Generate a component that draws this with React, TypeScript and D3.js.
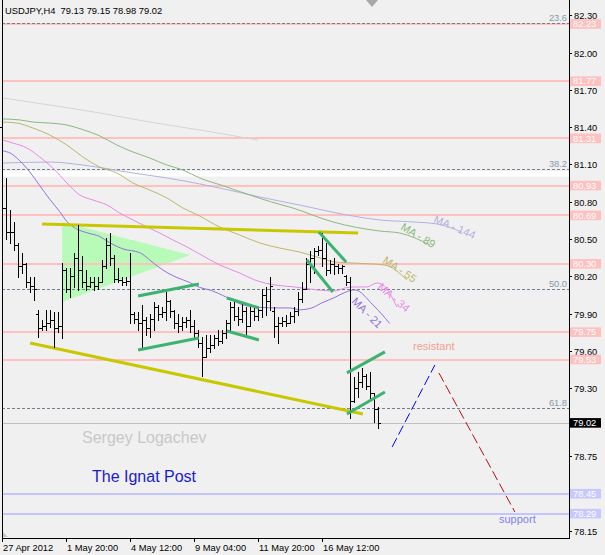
import React from "react";
import * as d3 from "d3";

const W = 605;
const H = 555;

// OHLC bars (H4), index 0..94
const opens = [81.40,80.75,80.56,80.56,80.45,80.28,80.30,80.15,80.12,79.90,79.78,79.80,79.82,79.85,79.78,79.80,80.25,80.10,80.20,80.35,80.25,80.15,80.12,80.15,80.12,80.15,80.28,80.45,80.35,80.18,80.17,80.15,80.16,79.90,79.86,79.82,79.85,79.78,79.86,79.95,79.90,79.91,80.00,79.92,79.82,79.80,79.83,79.85,79.80,79.74,79.66,79.55,79.62,79.65,79.70,79.68,79.74,79.82,79.95,79.88,79.86,79.92,79.80,79.92,79.88,79.93,80.05,80.00,79.92,79.80,79.82,79.84,79.82,79.88,79.92,80.02,80.10,80.30,80.35,80.40,80.41,80.35,80.25,80.30,80.28,80.27,80.20,80.15,79.20,79.30,79.35,79.40,79.32,79.26,79.13];
const highs = [81.43,80.99,80.73,80.64,80.47,80.39,80.31,80.19,80.19,79.93,79.85,79.93,79.93,79.91,79.91,80.31,80.27,80.27,80.39,80.61,80.36,80.25,80.19,80.19,80.19,80.33,80.51,80.55,80.37,80.27,80.19,80.19,80.39,79.91,79.91,79.97,79.87,79.90,79.99,79.97,79.95,80.07,80.01,79.93,79.90,79.87,79.87,79.93,79.85,79.77,79.71,79.73,79.73,79.73,79.77,79.77,79.85,79.99,79.99,79.95,79.99,79.95,79.97,79.95,79.95,80.10,80.11,80.19,79.95,79.87,79.87,79.89,79.91,79.95,80.07,80.15,80.35,80.40,80.43,80.44,80.55,80.47,80.33,80.35,80.30,80.29,80.21,80.19,79.39,79.43,79.46,79.41,79.43,79.26,79.15];
const lows = [80.47,80.50,80.47,80.41,80.19,80.23,80.11,80.07,80.01,79.71,79.77,79.77,79.79,79.63,79.75,79.70,80.07,80.03,80.11,80.09,80.11,80.09,80.11,80.09,80.10,80.15,80.27,80.29,80.15,80.15,80.13,80.13,79.82,79.82,79.77,79.62,79.73,79.71,79.77,79.85,79.87,79.85,79.87,79.78,79.75,79.77,79.79,79.75,79.71,79.63,79.40,79.55,79.59,79.62,79.65,79.66,79.70,79.75,79.85,79.81,79.83,79.71,79.80,79.85,79.85,79.87,79.89,79.93,79.71,79.66,79.80,79.80,79.82,79.83,79.89,79.99,80.10,80.15,80.23,80.37,80.28,80.21,80.23,80.22,80.23,80.23,80.13,79.06,79.19,79.23,79.31,79.29,79.22,79.03,78.98];
const closes = [80.75,80.56,80.56,80.45,80.28,80.30,80.15,80.12,80.10,79.78,79.80,79.82,79.85,79.78,79.80,80.25,80.10,80.20,80.35,80.25,80.15,80.12,80.15,80.12,80.15,80.28,80.45,80.35,80.18,80.17,80.15,80.16,79.90,79.86,79.82,79.85,79.78,79.86,79.95,79.90,79.91,80.00,79.92,79.82,79.80,79.83,79.85,79.80,79.74,79.66,79.55,79.62,79.65,79.70,79.68,79.74,79.82,79.95,79.88,79.86,79.92,79.80,79.92,79.88,79.93,80.05,80.00,80.12,79.80,79.82,79.84,79.82,79.88,79.92,80.02,80.10,80.30,80.35,80.40,80.41,80.35,80.25,80.30,80.28,80.27,80.28,80.15,79.20,79.30,79.35,79.40,79.32,79.26,79.13,79.02];

// Moving averages, [bar index, price]
const ma21 = [[0,81.21],[2,81.19],[4.3,81.13],[6.8,81.04],[9.3,80.93],[11.8,80.82],[14.3,80.72],[16.1,80.64],[18.6,80.58],[21.1,80.55],[24.3,80.52],[26.8,80.47],[30.1,80.42],[34.3,80.39],[37.6,80.31],[40.1,80.25],[43.6,80.19],[46.8,80.15],[49.3,80.11],[51.8,80.09],[56.1,80.03],[60.1,79.97],[64.3,79.95],[68.6,79.945],[71.8,79.945],[74.3,79.93],[77.3,79.945],[79.8,79.985],[83.1,80.03],[85.6,80.07],[88.1,80.09],[92.6,79.97],[96.8,79.82]];
const ma34 = [[0,81.297],[2.6,81.272],[6.1,81.232],[9.3,81.16],[12.6,81.071],[16.1,80.951],[19.3,80.854],[22.6,80.814],[26.1,80.774],[29.3,80.709],[32.6,80.653],[36.1,80.597],[39.3,80.548],[42.6,80.492],[46.1,80.436],[49.3,80.379],[54.3,80.291],[59.3,80.226],[63.1,80.17],[68.1,80.13],[73.1,80.114],[78.6,80.09],[83.1,80.082],[85.6,80.106],[88.1,80.114],[91.1,80.114],[93.6,80.146],[95.1,80.13],[98.6,79.953]];
const ma55 = [[0,81.441],[3.6,81.433],[7.6,81.393],[11.8,81.337],[16.1,81.256],[20.1,81.16],[24.3,81.079],[28.6,81.031],[32.6,80.951],[36.8,80.894],[41.1,80.83],[45.1,80.749],[49.3,80.685],[54.3,80.596],[59.3,80.532],[64.3,80.468],[69.3,80.427],[74.3,80.395],[78.6,80.355],[83.1,80.315],[87.3,80.307],[95.6,80.29],[101.1,80.17]];
const ma89 = [[0,81.466],[4.3,81.458],[7.6,81.441],[11.8,81.433],[16.1,81.417],[20.1,81.38],[24.3,81.33],[28.6,81.256],[32.6,81.2],[36.8,81.152],[41.1,81.095],[45.1,81.055],[49.3,80.991],[55,80.93],[61.8,80.854],[67,80.8],[72.6,80.749],[82.6,80.637],[94.3,80.564],[99.3,80.548],[106.8,80.452]];
const ma144 = [[0,81.111],[11.8,81.119],[20.1,81.095],[32.6,81.031],[41.1,80.991],[49.3,80.943],[54.3,80.91],[64.3,80.838],[74.3,80.773],[86.1,80.693],[94.3,80.653],[102.6,80.637],[108.6,80.621],[114.8,80.556]];
const ma200 = [[0,81.635],[11.8,81.578],[24.3,81.514],[36.8,81.441],[49.3,81.377],[63.8,81.297]];

// Horizontal levels
const resistLevels = [82.23, 81.77, 81.31, 80.93, 80.69, 80.30, 79.75, 79.53];
const supportLevels = [78.45, 78.29];
const fibLevels = [82.236, 81.061, 80.095, 79.138];
const fibLabels = ["23.6", "38.2", "50.0", "61.8"];
const lastPrice = 79.02;

// Axes
const priceTicks = [82.30, 82.00, 81.70, 81.40, 81.10, 80.80, 80.50, 80.20, 79.90, 79.60, 79.30, 78.75, 78.15];
const timeTickIdx = [0, 16, 32, 48, 64, 80];
const timeTickLabels = ["27 Apr 2012", "1 May 20:00", "4 May 12:00", "9 May 04:00", "11 May 20:00", "16 May 12:00"];

// Drawn objects [index, price]
const triangle = [[14.9, 80.637], [14.9, 79.993], [46.9, 80.371]];
const oliveLines = [
  [[9.9, 80.621], [88.9, 80.548]],
  [[6.9, 79.663], [90.1, 79.092]],
];
const greenLines = [
  [[33.9, 80.041], [49.1, 80.138]],
  [[33.9, 79.606], [49.1, 79.703]],
  [[56.1, 80.025], [64.1, 79.945]],
  [[56.1, 79.76], [64.1, 79.687]],
  [[79.1, 80.556], [85.9, 80.315]],
  [[76.1, 80.331], [82.6, 80.073]],
  [[86.1, 79.422], [95.6, 79.591]],
  [[86.1, 79.092], [95.6, 79.269]],
];
const blueProjection = [[97.4, 78.826], [108.1, 79.486]];
const redProjection = [[109.1, 79.422], [128.1, 78.303]];

const FONT = "'Liberation Sans', Arial, sans-serif";

export default function App() {
  const x = d3.scaleLinear().domain([0, 94]).range([2.5, 378.5]);
  const y = d3.scaleLinear().domain([78.15, 82.3]).range([531, 15.3]);
  const L = 2;
  const R = 569;
  const B = 538;

  const maLine = d3
    .line<number[]>()
    .x((d) => x(d[0]))
    .y((d) => y(d[1]))
    .curve(d3.curveMonotoneX);
  const straight = d3
    .line<number[]>()
    .x((d) => x(d[0]))
    .y((d) => y(d[1]));

  const maDefs = [
    { d: ma200, c: "#d4d4d4" },
    { d: ma144, c: "#b4b0e0" },
    { d: ma89, c: "#8cb880" },
    { d: ma55, c: "#bdb76b" },
    { d: ma34, c: "#e88ae8" },
    { d: ma21, c: "#9370db" },
  ];

  const maLabels = [
    { t: "MA - 144", px: 433, py: 222, a: 23, c: "#b4b0e0" },
    { t: "MA - 89", px: 400, py: 229, a: 31, c: "#8cb880" },
    { t: "MA - 55", px: 382, py: 262, a: 34, c: "#bdb76b" },
    { t: "MA - 34", px: 377, py: 288, a: 41, c: "#e88ae8" },
    { t: "MA - 21", px: 351, py: 302, a: 45, c: "#9370db" },
  ];

  return (
    <div style={{ position: "fixed", left: 0, top: 0, width: W, height: H, background: "#f0f0f0" }}>
      <svg width={W} height={H} style={{ display: "block", fontFamily: FONT }}>
        <rect x={0} y={0} width={W} height={H} fill="#f0f0f0" />
        {/* white band */}
        <rect x={L} y={171} width={R - L} height={5.5} fill="#ffffff" />

        {/* triangle */}
        <polygon
          points={triangle.map((p) => `${x(p[0])},${y(p[1])}`).join(" ")}
          fill="#b8fab8"
        />

        {/* levels */}
        {resistLevels.map((v, i) => (
          <rect key={"r" + i} x={L} y={Math.round(y(v)) - 1} width={R - L} height={2} fill="#ffc0c0" />
        ))}
        {supportLevels.map((v, i) => (
          <rect key={"s" + i} x={L} y={Math.round(y(v)) - 1} width={R - L} height={2} fill="#c4c4ff" />
        ))}
        {fibLevels.map((v, i) => (
          <g key={"f" + i}>
            <line
              x1={L}
              x2={R}
              y1={Math.round(y(v)) + 0.5}
              y2={Math.round(y(v)) + 0.5}
              stroke="#708090"
              strokeDasharray="3,2"
              strokeWidth={1}
            />
            <text x={567} y={Math.round(y(v)) - 2} textAnchor="end" fontSize={9.3} fill="#8a98a8">
              {fibLabels[i]}
            </text>
          </g>
        ))}
        <line
          x1={L}
          x2={R}
          y1={Math.round(y(lastPrice)) + 0.5}
          y2={Math.round(y(lastPrice)) + 0.5}
          stroke="#c0c0c0"
          strokeWidth={1}
        />

        {/* moving averages */}
        {maDefs.map((m, i) => (
          <path key={"ma" + i} d={maLine(m.d as any) || ""} fill="none" stroke={m.c} strokeWidth={1} />
        ))}
        {maLabels.map((m, i) => (
          <text
            key={"ml" + i}
            x={m.px}
            y={m.py}
            transform={`rotate(${m.a},${m.px},${m.py})`}
            fontSize={11}
            fill={m.c}
          >
            {m.t}
          </text>
        ))}

        {/* olive trend lines */}
        {oliveLines.map((l, i) => (
          <path key={"ol" + i} d={straight(l as any) || ""} stroke="#c8c800" strokeWidth={3} fill="none" />
        ))}

        {/* bars */}
        {opens.map((o, i) => {
          const c = Math.floor(x(i));
          const yh = Math.round(y(highs[i]));
          const yl = Math.round(y(lows[i]));
          const yo = Math.round(y(o));
          const yc = Math.round(y(closes[i]));
          return (
            <g key={"b" + i} fill="#000">
              <rect x={c} y={yh} width={1} height={Math.max(1, yl - yh + 1)} />
              <rect x={c - 2} y={yo} width={2} height={1} />
              <rect x={c + 1} y={yc} width={2} height={1} />
            </g>
          );
        })}

        {/* green channel segments */}
        {greenLines.map((l, i) => (
          <path key={"gl" + i} d={straight(l as any) || ""} stroke="#3cb371" strokeWidth={3} fill="none" />
        ))}

        {/* projections */}
        <path d={straight(blueProjection as any) || ""} stroke="#0000ff" strokeWidth={1} strokeDasharray="10,4" fill="none" />
        <path d={straight(redProjection as any) || ""} stroke="#b01010" strokeWidth={1} strokeDasharray="10,4" fill="none" />

        {/* annotations */}
        <text x={413} y={350} fontSize={11} fill="#f0a090">resistant</text>
        <text x={499} y={523} fontSize={11} fill="#8080f0">support</text>
        <text x={82} y={443} fontSize={16} fill="#c8c8c8">Sergey Logachev</text>
        <text x={92} y={482} fontSize={16} fill="#1a1ad0">The Ignat Post</text>

        {/* header */}
        <text x={5} y={14} fontSize={9.4} fill="#000" style={{ whiteSpace: "pre" }}>
          {"USDJPY,H4  79.13 79.15 78.98 79.02"}
        </text>

        {/* chart shift markers */}
        <polygon points="366,0 378,0 372,7" fill="#a8a8a8" />
        <polygon points={`${L},531 ${L},537 ${L + 6},537`} fill="#c8c8c8" />

        {/* frame */}
        <rect x={L} y={0} width={1} height={B - 0 + 1} fill="#000" />
        <rect x={R} y={0} width={1} height={B + 1} fill="#000" />
        <rect x={L} y={B} width={R - L + 1} height={1} fill="#000" />

        {/* price axis */}
        {priceTicks.map((v, i) => (
          <g key={"pt" + i}>
            <rect x={R + 1} y={Math.round(y(v))} width={2} height={1} fill="#000" />
            <text x={574} y={Math.round(y(v)) + 3.5} fontSize={9.3} fill="#000">
              {v.toFixed(2)}
            </text>
          </g>
        ))}
        {resistLevels.map((v, i) => (
          <g key={"rl" + i}>
            <rect x={570} y={y(v) - 4.8} width={31} height={9.6} fill="#ffc0c0" />
            <text x={573} y={y(v) + 3.3} fontSize={9.3} fill="#ffffff">
              {v.toFixed(2)}
            </text>
          </g>
        ))}
        {supportLevels.map((v, i) => (
          <g key={"sl" + i}>
            <rect x={570} y={y(v) - 4.8} width={31} height={9.6} fill="#c8c8ff" />
            <text x={573} y={y(v) + 3.3} fontSize={9.3} fill="#ffffff">
              {v.toFixed(2)}
            </text>
          </g>
        ))}
        <rect x={570} y={y(lastPrice) - 4.8} width={31} height={9.6} fill="#000" />
        <text x={573} y={y(lastPrice) + 3.3} fontSize={9.3} fill="#ffffff">
          {lastPrice.toFixed(2)}
        </text>

        {/* time axis */}
        {timeTickIdx.map((t, i) => {
          const tx = Math.floor(x(t));
          return (
            <g key={"tt" + i}>
              <rect x={tx} y={B + 1} width={1} height={3} fill="#000" />
              <text x={tx + 1} y={551} fontSize={9.3} fill="#000">
                {timeTickLabels[i]}
              </text>
            </g>
          );
        })}
      </svg>
    </div>
  );
}
